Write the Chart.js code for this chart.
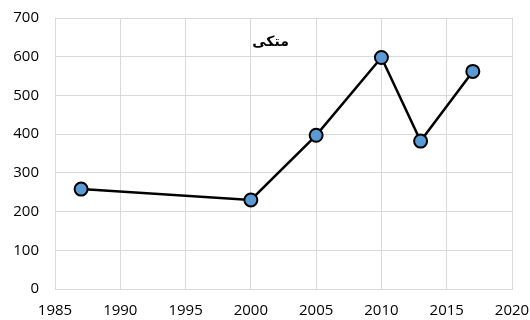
<!DOCTYPE html>
<html>
<head>
<meta charset="utf-8">
<script src="https://cdn.jsdelivr.net/npm/chart.js@4.4.1/dist/chart.umd.min.js"></script>
<style>
  html, body { margin: 0; padding: 0; background: #fff; }
  #wrap { width: 530px; height: 320px; }
</style>
</head>
<body>
<div id="wrap"><canvas id="c" width="530" height="320"></canvas></div>
<script>
// Series: year and value
const years = [1987, 2000, 2005, 2010, 2013, 2017];
const values = [258, 230, 397, 598, 382, 562];
const chartTitle = 'متکی';

// Axis ranges
const xMin = 1985, xMax = 2020, xStep = 5;
const yMin = 0, yMax = 700, yStep = 100;

const points = years.map((y, i) => ({ x: y, y: values[i] }));

// Title drawn inside the plot area, near its top
const innerTitle = {
  id: 'innerTitle',
  afterDraw(chart) {
    const { ctx, chartArea } = chart;
    ctx.save();
    ctx.font = 'bold 14px "DejaVu Sans", sans-serif';
    ctx.fillStyle = '#000';
    ctx.textAlign = 'center';
    ctx.textBaseline = 'middle';
    ctx.fillText(chartTitle, (chartArea.left + chartArea.right) / 2 - 13, chartArea.top + 24);
    ctx.restore();
  }
};

const tickFont = { family: '"Open Sans", sans-serif', size: 15 };

new Chart(document.getElementById('c'), {
  type: 'line',
  data: {
    datasets: [{
      data: points,
      borderColor: '#000',
      borderWidth: 2.5,
      backgroundColor: '#5b9bd5',
      pointBackgroundColor: '#5b9bd5',
      pointBorderColor: '#000',
      pointBorderWidth: 2,
      pointRadius: 6.5,
      tension: 0
    }]
  },
  options: {
    responsive: false,
    animation: false,
    layout: { padding: { left: 0, right: 0, top: 18, bottom: 0 } },
    plugins: { legend: { display: false }, tooltip: { enabled: false } },
    scales: {
      x: {
        type: 'linear',
        min: xMin, max: xMax,
        afterFit(s) { s.height = 31; s.paddingLeft = 0; s.paddingRight = 18; },
        ticks: { stepSize: xStep, color: '#000', font: tickFont, padding: 13,
                 maxRotation: 0, callback: v => String(v) },
        grid: { color: '#d9d9d9', lineWidth: 1, drawTicks: false },
        border: { color: '#d9d9d9' }
      },
      y: {
        min: yMin, max: yMax,
        afterFit(s) { s.width = 55; s.paddingTop = 0; s.paddingBottom = 0; },
        ticks: { stepSize: yStep, color: '#000', font: tickFont, padding: 16 },
        grid: { color: '#d9d9d9', lineWidth: 1, drawTicks: false },
        border: { color: '#d9d9d9' }
      }
    }
  },
  plugins: [innerTitle]
});
</script>
</body>
</html>
